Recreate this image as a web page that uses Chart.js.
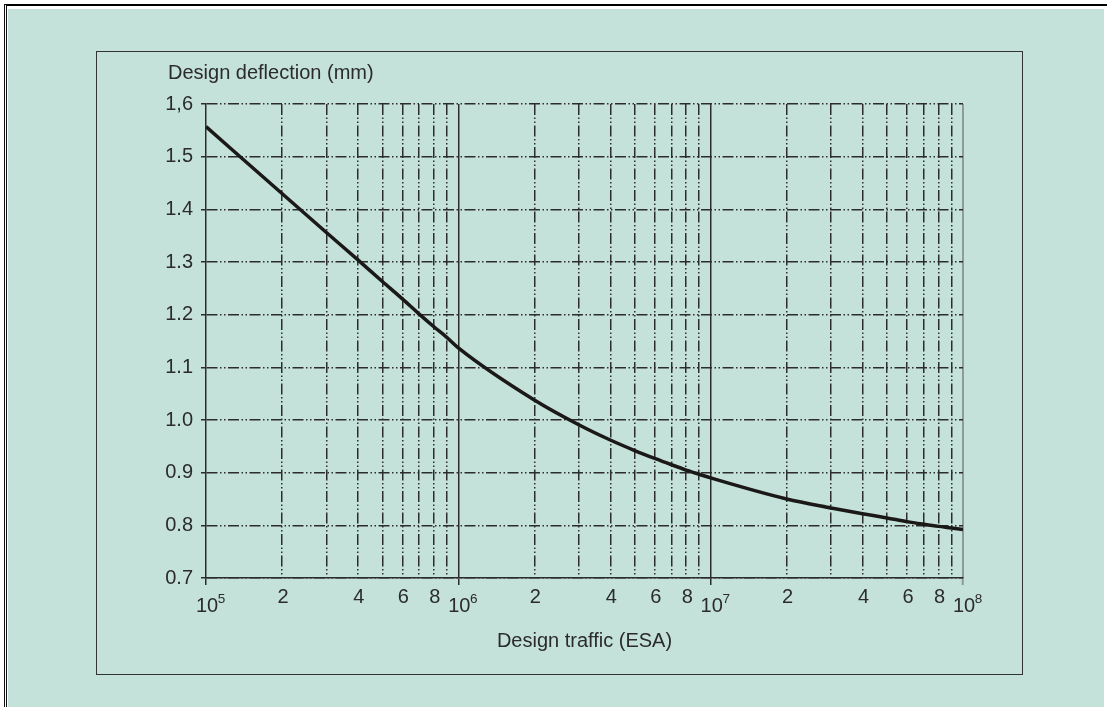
<!DOCTYPE html>
<html lang="en">
<head>
<meta charset="UTF-8">
<title>Design deflection</title>
<style>
  body { margin: 0; background: #fff; width: 1108px; height: 707px; position: relative; overflow: hidden; font-family: "Liberation Sans", Arial, sans-serif; }
  .frame { position: absolute; left: 4px; top: 4px; width: 1100px; height: 710px; border-top: 2px solid #000; border-left: 3px double #111; }
  .panel { position: absolute; left: 8px; top: 9px; width: 1096px; height: 698px; background: #c4e2d9; }
  .box { position: absolute; left: 96px; top: 51px; width: 925px; height: 622px; border: 1px solid #333; }
  .ytitle { position: absolute; left: 168px; top: 60px; font-size: 20px; line-height: 24px; color: #2b2b2b; white-space: nowrap; }
  canvas { display: block; }
</style>
</head>
<body>
<div class="frame"></div>
<div class="panel"></div>
<div class="box">
  <canvas id="myChart" width="925" height="622"></canvas>
</div>
<div class="ytitle">Design deflection (mm)</div>

<script src="https://cdn.jsdelivr.net/npm/chart.js"></script>
<script>
  // design traffic (ESA) and the matching design deflection (mm)
  const traffic = [1e5, 2e5, 3e5, 4e5, 5e5, 6e5, 7e5, 8e5, 9e5,
                   1e6, 2e6, 3e6, 4e6, 5e6, 6e6, 7e6, 8e6, 9e6,
                   1e7, 2e7, 3e7, 4e7, 5e7, 6e7, 7e7, 8e7, 9e7, 1e8];
  const deflection = [1.557, 1.430, 1.356, 1.304, 1.263, 1.230, 1.201, 1.177, 1.157,
                      1.137, 1.038, 0.991, 0.962, 0.942, 0.927, 0.915, 0.905, 0.897,
                      0.890, 0.850, 0.833, 0.822, 0.814, 0.807, 0.802, 0.798, 0.795, 0.792];

  // x ticks: every 1..9 step of each decade, labels only on decades and 2,4,6,8
  const xTicks = [1e5, 2e5, 3e5, 4e5, 5e5, 6e5, 7e5, 8e5, 9e5,
                  1e6, 2e6, 3e6, 4e6, 5e6, 6e6, 7e6, 8e6, 9e6,
                  1e7, 2e7, 3e7, 4e7, 5e7, 6e7, 7e7, 8e7, 9e7, 1e8];
  const xLabels = ['10', '2', '', '4', '', '6', '', '8', '',
                   '10', '2', '', '4', '', '6', '', '8', '',
                   '10', '2', '', '4', '', '6', '', '8', '', '10'];
  const xDecades = [1e5, 1e6, 1e7, 1e8];
  const xExponents = ['5', '6', '7', '8'];

  const yTicks = [0.7, 0.8, 0.9, 1.0, 1.1, 1.2, 1.3, 1.4, 1.5, 1.6];
  const yLabels = ['0.7', '0.8', '0.9', '1.0', '1.1', '1.2', '1.3', '1.4', '1.5', '1,6'];

  const ink = '#2c2c2c';
  const edge = '#8f9b97';
  const dashDotDot = [11, 2.5, 1.5, 2.5, 1.5, 2.5];
  const fontSize = 20;

  Chart.defaults.font.family = '"Liberation Sans", Arial, sans-serif';
  Chart.defaults.font.size = fontSize;
  Chart.defaults.color = '#2b2b2b';

  function isDecade(v) {
    return xDecades.indexOf(v) != -1;
  }

  const ctx = document.getElementById('myChart');

  new Chart(ctx, {
    type: 'line',
    data: {
      datasets: [{
        data: traffic.map((t, i) => ({ x: t, y: deflection[i] })),
        borderColor: '#1b1818',
        borderWidth: 3.5,
        pointRadius: 0,
        cubicInterpolationMode: 'monotone',
        fill: false
      }]
    },
    options: {
      responsive: false,
      animation: false,
      devicePixelRatio: 1,
      layout: {
        padding: { left: 60, right: 59, top: 52, bottom: 0 }
      },
      plugins: {
        legend: { display: false },
        tooltip: { enabled: false }
      },
      scales: {
        x: {
          type: 'logarithmic',
          position: 'bottom',
          min: 1e5,
          max: 1e8,
          afterBuildTicks: s => { s.ticks = xTicks.map(v => ({ value: v })); },
          afterFit: s => { s.height = 96; },
          ticks: {
            autoSkip: false,
            maxRotation: 0,
            padding: 0,
            labelOffset: 1,
            callback: (v, i) => xLabels[i],
            // decade labels sit a little lower than the 2/4/6/8 digits
            font: c => ({
              size: fontSize,
              lineHeight: isDecade(c.tick.value) ? 2.1 : 1.2
            })
          },
          grid: {
            color: c => isDecade(c.tick.value) ? 'transparent' : ink,
            lineWidth: 1.5,
            tickLength: 7,
            tickWidth: c => c.tick.value == 1e8 ? 2 : 1.5,
            tickColor: c => {
              if (c.tick.value == 1e8) return edge;
              return isDecade(c.tick.value) ? ink : 'transparent';
            }
          },
          border: { display: true, color: ink, width: 1.5, dash: dashDotDot },
          title: {
            display: true,
            text: 'Design traffic (ESA)',
            color: '#2b2b2b',
            font: { size: fontSize },
            padding: { top: 0, bottom: 21 }
          }
        },
        // exponents of the decade labels
        xExp: {
          axis: 'x',
          type: 'logarithmic',
          position: { y: 0.7 },
          min: 1e5,
          max: 1e8,
          afterBuildTicks: s => { s.ticks = xDecades.map(v => ({ value: v })); },
          ticks: {
            autoSkip: false,
            maxRotation: 0,
            padding: 13,
            labelOffset: 15.5,
            font: { size: 13.5 },
            callback: (v, i) => xExponents[i]
          },
          grid: { display: false, drawTicks: false },
          border: { display: false }
        },
        // solid decade lines across the plot
        x2: {
          type: 'logarithmic',
          position: 'top',
          min: 1e5,
          max: 1e8,
          afterBuildTicks: s => { s.ticks = xDecades.map(v => ({ value: v })); },
          afterFit: s => { s.height = 0; },
          ticks: { display: false },
          grid: {
            drawTicks: false,
            color: c => {
              if (c.tick.value == 1e5) return 'transparent';
              return c.tick.value == 1e8 ? edge : ink;
            },
            lineWidth: c => c.tick.value == 1e8 ? 2 : 1.5
          },
          border: { display: false }
        },
        y: {
          min: 0.7,
          max: 1.6,
          afterBuildTicks: s => { s.ticks = yTicks.map(v => ({ value: v })); },
          afterFit: s => { s.width = 49; },
          ticks: {
            padding: 8,
            callback: (v, i) => yLabels[i]
          },
          grid: {
            color: ink,
            lineWidth: 1.5,
            tickLength: 5,
            tickColor: ink
          },
          border: { display: true, color: ink, width: 1.5, dash: dashDotDot }
        }
      }
    }
  });
</script>
</body>
</html>
